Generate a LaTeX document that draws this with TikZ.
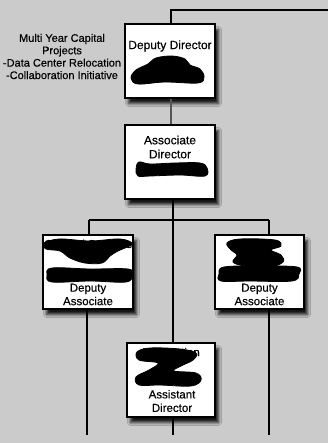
\documentclass[tikz,border=0pt]{standalone}
\usepackage{fontspec}
\setmainfont{Liberation Sans}[FakeBold=0.35]
\usetikzlibrary{shadows.blur}
\definecolor{bggray}{HTML}{CBCBCB}
\definecolor{linkgray}{HTML}{555555}
\tikzset{
  orgbox/.style={draw=black, line width=1.2pt, fill=white, inner sep=0pt,
    minimum width=90pt, minimum height=74pt,
    blur shadow={shadow xshift=3.5pt, shadow yshift=-5.5pt, shadow blur radius=3pt, shadow opacity=90}},
  toplabel/.style={inner sep=0pt, align=center, font=\fontsize{12}{14}\selectfont},
  lowlabel/.style={inner sep=0pt, align=center, font=\fontsize{11.5}{13.5}\selectfont},
  conn/.style={line width=1.6pt, black},
  blob/.style={fill=black, draw=black, line width=0.8pt, line join=round}
}
\begin{document}
\begin{tikzpicture}[x=1pt, y=-1pt]
\fill[bggray] (0,0) rectangle (328,443);
\useasboundingbox (0,0) rectangle (328,443);

% boxes
\node[orgbox] (dd) at (170,61) {};
\node[orgbox] (ad) at (170,162) {};
\node[orgbox] (ls) at (88,272) {};
\node[orgbox, minimum width=89pt] (rs) at (259.5,272) {};
\node[orgbox, minimum width=88pt] (bs) at (171,380) {};

% coordinates for free ends
\coordinate (topR) at (328,10);
\coordinate (hL) at (89,220);
\coordinate (hR) at (269,220);
\coordinate (hC) at (173,220);
\coordinate (eL) at (87,435);
\coordinate (eR) at (269,435);
\coordinate (eC) at (173,435);

% connectors
\draw[conn] ([xshift=1pt]dd.north) |- (topR);
\draw[line width=1.6pt, linkgray] ([xshift=1pt]dd.south) -- ([xshift=1pt]ad.north);
\draw[conn] (ad.south -| hC) -- (hC);
\draw[conn] (hL) -- (hR);
\draw[conn] (hL) -- (hL |- ls.north);
\draw[conn] (hR) -- (hR |- rs.north);
\draw[conn] (hC) -- (hC |- bs.north);
\draw[conn] (ls.south -| eL) -- (eL);
\draw[conn] (rs.south -| eR) -- (eR);
\draw[conn] (bs.south -| eC) -- (eC);

% side text
\node[inner sep=0pt, align=center, font=\fontsize{11}{12.4}\selectfont] (proj) at (62,56.5)
  {Multi Year Capital\\Projects\\-Data Center Relocation\\-Collaboration Initiative};

% labels
\node[toplabel] (ddl) at (170,46) {Deputy Director};
\node[toplabel] (adl) at (170,147) {Associate\\Director};
\node[lowlabel] (lsh) at (88,245) {General Systems};
\node[lowlabel] (lsl) at (88,294.5) {Deputy\\Associate};
\node[lowlabel] (rsl) at (259.5,294.5) {Deputy\\Associate};
\node[lowlabel] (bsh) at (171,352) {Information};
\node[lowlabel] (bsl) at (172,401) {Assistant\\Director};

% redaction scribbles
\filldraw[blob] plot[smooth cycle, tension=0.6] coordinates {(131,78)(136,70)(148,64)(156,58)(172,56)(185,59)(190,65)(200,69)(204,77)(198,83)(165,82)(138,84)};
\filldraw[blob] plot[smooth cycle, tension=0.6] coordinates {(136,169)(139,162)(150,164)(175,163)(200,163)(207,168)(205,176)(180,175)(150,176)(138,176)};
\filldraw[blob] plot[smooth cycle, tension=0.6] coordinates {(44,243)(60,239)(90,241)(120,239)(132,244)(118,251)(110,256)(102,263)(85,263)(70,258)(60,251)(46,249)};
\filldraw[blob] plot[smooth cycle, tension=0.6] coordinates {(47,275)(52,268)(90,269)(128,269)(132,275)(126,282)(90,281)(52,282)};
\filldraw[blob] plot[smooth cycle, tension=0.6] coordinates {(227,243)(240,239)(275,240)(281,246)(271,250)(281,255)(283,262)(270,267)(245,266)(233,262)(237,255)(231,250)};
\filldraw[blob] plot[smooth cycle, tension=0.6] coordinates {(219,274)(224,267)(260,266)(297,267)(299,274)(292,281)(250,281)(221,281)};
\filldraw[blob] plot[smooth cycle, tension=0.6] coordinates {(137,352)(150,348)(180,349)(196,353)(193,360)(181,366)(174,371)(196,373)(201,380)(191,386)(160,385)(139,385)(136,377)(149,370)(158,363)(139,360)};
\end{tikzpicture}
\end{document}
